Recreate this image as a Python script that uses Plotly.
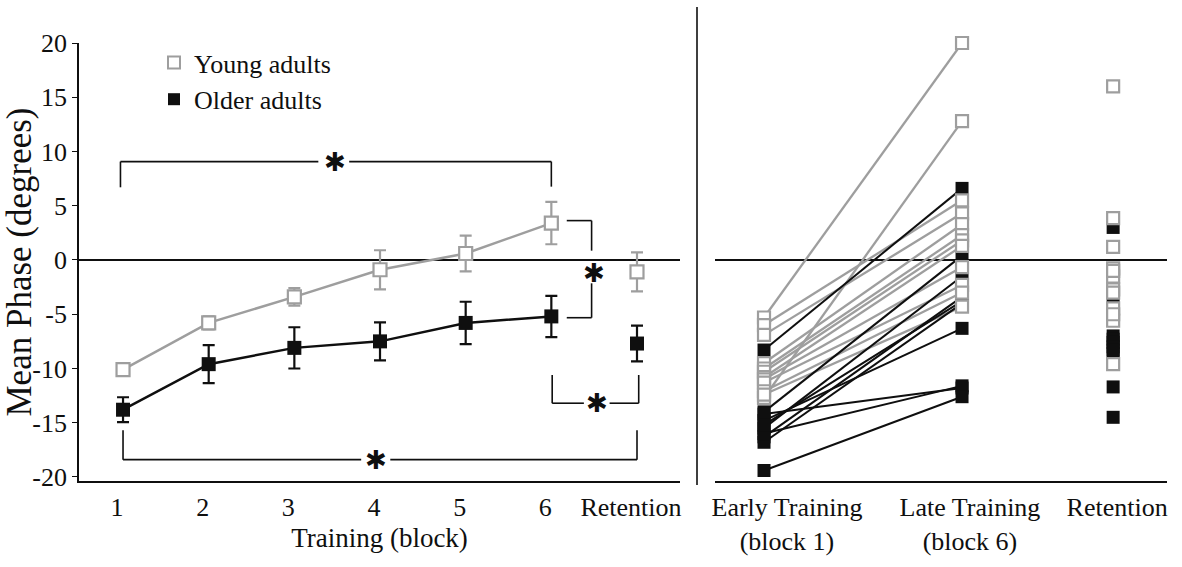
import plotly.graph_objects as go

# ---------------- data ----------------
blocks = [1, 2, 3, 4, 5, 6, 7]
block_labels = ["1", "2", "3", "4", "5", "6", "Retention"]
young_mean = [-10.1, -5.8, -3.4, -0.9, 0.6, 3.4, -1.1]
young_err = [0.5, 0.6, 0.8, 1.8, 1.65, 1.95, 1.8]
older_mean = [-13.8, -9.6, -8.1, -7.5, -5.8, -5.2, -7.7]
older_err = [1.15, 1.75, 1.9, 1.75, 1.95, 1.9, 1.65]

phase_labels = ["Early Training<br>(block 1)", "Late Training<br>(block 6)", "Retention"]
young_early = [-5.3, -12.7, -6.0, -6.9, -9.5, -10.0, -10.3, -10.8, -11.0, -11.3, -12.1, -12.4]
young_late = [20.0, 12.8, 5.5, 4.3, 3.3, 2.3, 1.8, 1.3, -0.65, -2.3, -3.0, -4.3]
young_ret = [16.0, 3.85, 1.2, -0.77, -1.54, -2.7, -1.0, -3.0, -4.46, -5.6, -5.0, -9.6]
older_early = [-8.3, -14.0, -14.8, -14.2, -15.5, -16.3, -16.8, -16.0, -19.4, -15.2]
older_late = [6.6, 0.4, -6.3, -11.8, -1.5, -3.4, -4.0, -11.6, -12.6, -3.8]
older_ret = [3.0, -3.6, -7.0, -7.3, -7.6, -8.0, -8.3, -8.6, -11.7, -14.5]

y_ticks = [-20, -15, -10, -5, 0, 5, 10, 15, 20]

# ---------------- style ----------------
W, H = 1182, 567
GRAY = "rgb(158,158,158)"
BLACK = "rgb(15,15,15)"
FONT = "Liberation Serif"

def fx(p):
    return p / W

def fy(p):
    return 1 - p / H

fig = go.Figure()

# ---- left panel ----
fig.add_trace(go.Scatter(x=blocks[:6], y=older_mean[:6], mode="lines",
                         line=dict(color=BLACK, width=2.5), showlegend=False,
                         hoverinfo="skip", xaxis="x", yaxis="y"))
fig.add_trace(go.Scatter(x=blocks[:6], y=young_mean[:6], mode="lines",
                         line=dict(color=GRAY, width=2.5), showlegend=False,
                         hoverinfo="skip", xaxis="x", yaxis="y"))
fig.add_trace(go.Scatter(x=blocks, y=older_mean, mode="markers",
                         error_y=dict(type="data", array=older_err, color=BLACK,
                                      thickness=2.2, width=6),
                         marker=dict(symbol="square", size=14, color=BLACK),
                         showlegend=False, xaxis="x", yaxis="y"))
fig.add_trace(go.Scatter(x=blocks, y=young_mean, mode="markers",
                         error_y=dict(type="data", array=young_err, color=GRAY,
                                      thickness=2.2, width=6),
                         marker=dict(symbol="square", size=13, color="white",
                                     line=dict(color=GRAY, width=2.2)),
                         showlegend=False, xaxis="x", yaxis="y"))

# legend entries
fig.add_trace(go.Scatter(x=[None], y=[None], mode="markers", name="Young adults",
                         marker=dict(symbol="square", size=16, color="white",
                                     line=dict(color=GRAY, width=2.2)),
                         xaxis="x", yaxis="y"))
fig.add_trace(go.Scatter(x=[None], y=[None], mode="markers", name="Older adults",
                         marker=dict(symbol="square", size=16, color=BLACK),
                         xaxis="x", yaxis="y"))

# ---- right panel ----
pos = [1.0, 2.0, 2.763]

def pair_lines(early, late):
    xs, ys = [], []
    for e, l in zip(early, late):
        xs += [pos[0], pos[1], None]
        ys += [e, l, None]
    return xs, ys

yx, yy = pair_lines(young_early, young_late)
ox, oy = pair_lines(older_early, older_late)
fig.add_trace(go.Scatter(x=yx, y=yy, mode="lines", line=dict(color=GRAY, width=2.3),
                         showlegend=False, hoverinfo="skip", cliponaxis=False,
                         xaxis="x2", yaxis="y2"))
fig.add_trace(go.Scatter(x=ox, y=oy, mode="lines", line=dict(color=BLACK, width=2),
                         showlegend=False, hoverinfo="skip", cliponaxis=False,
                         xaxis="x2", yaxis="y2"))

def all_points(early, late, ret):
    xs = [pos[0]] * len(early) + [pos[1]] * len(late) + [pos[2]] * len(ret)
    return xs, list(early) + list(late) + list(ret)

omx, omy = all_points(older_early, older_late, older_ret)
ymx, ymy = all_points(young_early, young_late, young_ret)
fig.add_trace(go.Scatter(x=omx, y=omy, mode="markers", cliponaxis=False,
                         marker=dict(symbol="square", size=13, color=BLACK),
                         showlegend=False, xaxis="x2", yaxis="y2"))
fig.add_trace(go.Scatter(x=ymx, y=ymy, mode="markers", cliponaxis=False,
                         marker=dict(symbol="square", size=12, color="white",
                                     line=dict(color=GRAY, width=2.2)),
                         showlegend=False, xaxis="x2", yaxis="y2"))

# ---- significance brackets ----
def seg(x0, y0, x1, y1):
    return dict(type="line", xref="x", yref="y", x0=x0, y0=y0, x1=x1, y1=y1,
                line=dict(color=BLACK, width=1.6))

shapes = [
    # block1 vs block6 (young)
    seg(0.97, 6.7, 0.97, 9.07), seg(0.97, 9.07, 3.28, 9.07), seg(3.64, 9.07, 6.0, 9.07),
    seg(6.0, 9.07, 6.0, 6.76),
    # young6 vs older6
    seg(6.18, 3.63, 6.47, 3.63), seg(6.47, 3.63, 6.47, 0.86),
    seg(6.47, -2.15, 6.47, -5.32), seg(6.47, -5.32, 6.18, -5.32),
    # older6 vs retention
    seg(6.01, -10.6, 6.01, -13.2), seg(6.01, -13.2, 6.38, -13.2),
    seg(6.68, -13.2, 7.02, -13.2), seg(7.02, -13.2, 7.02, -10.6),
    # block1 vs retention (older)
    seg(1.0, -15.7, 1.0, -18.4), seg(1.0, -18.4, 3.78, -18.4),
    seg(4.12, -18.4, 7.0, -18.4), seg(7.0, -18.4, 7.0, -15.7),
]
shapes.append(dict(type="line", xref="paper", yref="paper", x0=fx(697), x1=fx(697),
                   y0=fy(7), y1=fy(485), line=dict(color=BLACK, width=1.6)))

stars = [(3.47, 9.0), (6.50, -1.2), (6.53, -13.2), (3.95, -18.4)]
annotations = [dict(x=sx, y=sy, xref="x", yref="y", text="<b>✱</b>", showarrow=False,
                    font=dict(family="DejaVu Sans", size=26, color=BLACK))
               for sx, sy in stars]

axis_common = dict(showgrid=False, color=BLACK, linecolor=BLACK)

fig.update_layout(
    width=W, height=H, template="none",
    margin=dict(l=0, r=0, t=0, b=0),
    paper_bgcolor="white", plot_bgcolor="white",
    font=dict(family=FONT, color=BLACK, size=26),
    showlegend=True,
    legend=dict(x=fx(154), y=fy(39), xanchor="left", yanchor="top",
                bgcolor="rgba(0,0,0,0)", font=dict(family=FONT, size=26),
                itemsizing="constant", tracegroupgap=0),
    xaxis=dict(domain=[fx(79), fx(680)], range=[0.486, 7.502], anchor="y",
               tickvals=blocks, ticktext=block_labels, ticks="", showline=True,
               linewidth=1.6, zeroline=False, tickfont=dict(size=26),
               ticklabelstandoff=2, ticklabelshift=-6,
               title=dict(text="Training (block)", font=dict(size=27), standoff=7),
               automargin=False, **axis_common),
    yaxis=dict(domain=[fy(481), fy(43)], range=[-20.37, 20], anchor="x",
               tickvals=y_ticks, ticktext=[str(v) for v in y_ticks],
               ticks="outside", ticklen=5, tickwidth=1.4, tickcolor=BLACK,
               showline=True, linewidth=1.6, zeroline=True, zerolinecolor=BLACK,
               zerolinewidth=1.6, tickfont=dict(size=26),
               title=dict(text="Mean Phase (degrees)", font=dict(size=35), standoff=0),
               automargin=False, **axis_common),
    xaxis2=dict(domain=[fx(715), fx(1167)], range=[0.7525, 3.035], anchor="y2",
                tickvals=[1.116, 2.04, 2.783], ticktext=phase_labels, ticks="",
                showline=True, linewidth=1.6, zeroline=False, tickfont=dict(size=26),
                ticklabelstandoff=2, automargin=False, **axis_common),
    yaxis2=dict(domain=[fy(481), fy(43)], range=[-20.37, 20], anchor="x2",
                showticklabels=False, ticks="", showline=False, zeroline=True,
                zerolinecolor=BLACK, zerolinewidth=1.6, automargin=False,
                **axis_common),
    shapes=shapes,
    annotations=annotations,
)

fig.write_html("out.html", config={"displayModeBar": False},
               post_script="document.body.style.margin='0px';"
                           "document.documentElement.style.overflow='hidden';")
